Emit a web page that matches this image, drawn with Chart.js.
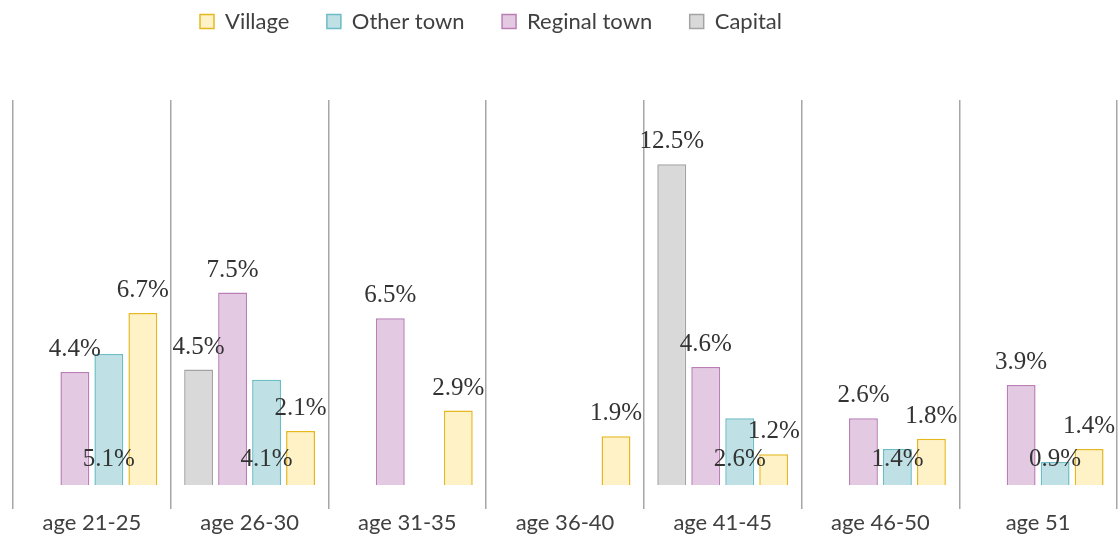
<!DOCTYPE html>
<html>
<head>
<meta charset="utf-8">
<script src="https://cdn.jsdelivr.net/npm/chart.js@4.4.1/dist/chart.umd.min.js"></script>
<style>
  html, body { margin: 0; padding: 0; background: #ffffff; }
  #wrap { width: 1120px; height: 537px; position: relative; }
</style>
</head>
<body>
<div id="wrap"><canvas id="c"></canvas></div>
<script>
const categories = ['age 21-25', 'age 26-30', 'age 31-35', 'age 36-40', 'age 41-45', 'age 46-50', 'age 51'];
const seriesNames = ['Capital', 'Reginal town', 'Other town', 'Village'];
const capital     = [null, 4.5, null, null, 12.5, null, null];
const reginalTown = [4.4, 7.5, 6.5, null, 4.6, 2.6, 3.9];
const otherTown   = [5.1, 4.1, null, null, 2.6, 1.4, 0.9];
const village     = [6.7, 2.1, 2.9, 1.9, 1.2, 1.8, 1.4];

const fills   = ['#d9d9d9', '#e3c9e1', '#bfe0e4', '#fff2c6'];
const borders = ['#a3a3a3', '#bb7fb8', '#6cbcc5', '#e6b820'];
const labelInside = [false, false, true, false];

const values = [capital, reginalTown, otherTown, village];
const datasets = values.map((v, i) => ({
  label: seriesNames[i],
  data: v,
  backgroundColor: fills[i],
  borderColor: borders[i],
  borderWidth: 1.5,
  categoryPercentage: 0.862,
  barPercentage: 0.85
}));

const valueLabels = {
  id: 'valueLabels',
  afterDatasetsDraw(chart) {
    const ctx = chart.ctx;
    ctx.save();
    ctx.font = '25px "Liberation Serif"';
    ctx.fillStyle = '#333333';
    ctx.textAlign = 'center';
    ctx.textBaseline = 'alphabetic';
    chart.data.datasets.forEach((ds, di) => {
      const meta = chart.getDatasetMeta(di);
      meta.data.forEach((el, i) => {
        const v = ds.data[i];
        if (v === null || v === undefined) return;
        const txt = v.toFixed(1) + '%';
        const y = labelInside[di] ? el.base - 19 : el.y - 16;
        ctx.fillText(txt, el.x, y);
      });
    });
    ctx.restore();
  }
};

const legendPlace = {
  id: 'legendPlace',
  afterLayout(chart) {
    const lg = chart.legend;
    lg.left = 162.5;
    lg.top = -27;
  }
};

new Chart(document.getElementById('c'), {
  type: 'bar',
  data: { labels: categories, datasets: datasets },
  options: {
    responsive: true,
    maintainAspectRatio: false,
    animation: false,
    layout: { padding: { left: 13, right: 3, top: 30.5, bottom: 0 } },
    plugins: {
      legend: {
        position: 'top',
        align: 'start',
        reverse: true,
        labels: {
          boxWidth: 14,
          boxHeight: 14,
          padding: 37.5,
          color: '#404040',
          font: { family: 'Lato', size: 22 }
        }
      },
      tooltip: { enabled: false }
    },
    scales: {
      x: {
        grid: {
          offset: true,
          color: '#a6a6a6',
          lineWidth: 1.5,
          tickLength: 24,
          drawTicks: true
        },
        border: { display: false },
        ticks: {
          color: '#404040',
          padding: 3,
          font: { family: 'Lato', size: 22, lineHeight: 1.0 }
        }
      },
      y: {
        display: false,
        min: 0,
        max: 15
      }
    }
  },
  plugins: [valueLabels, legendPlace]
});
</script>
</body>
</html>
